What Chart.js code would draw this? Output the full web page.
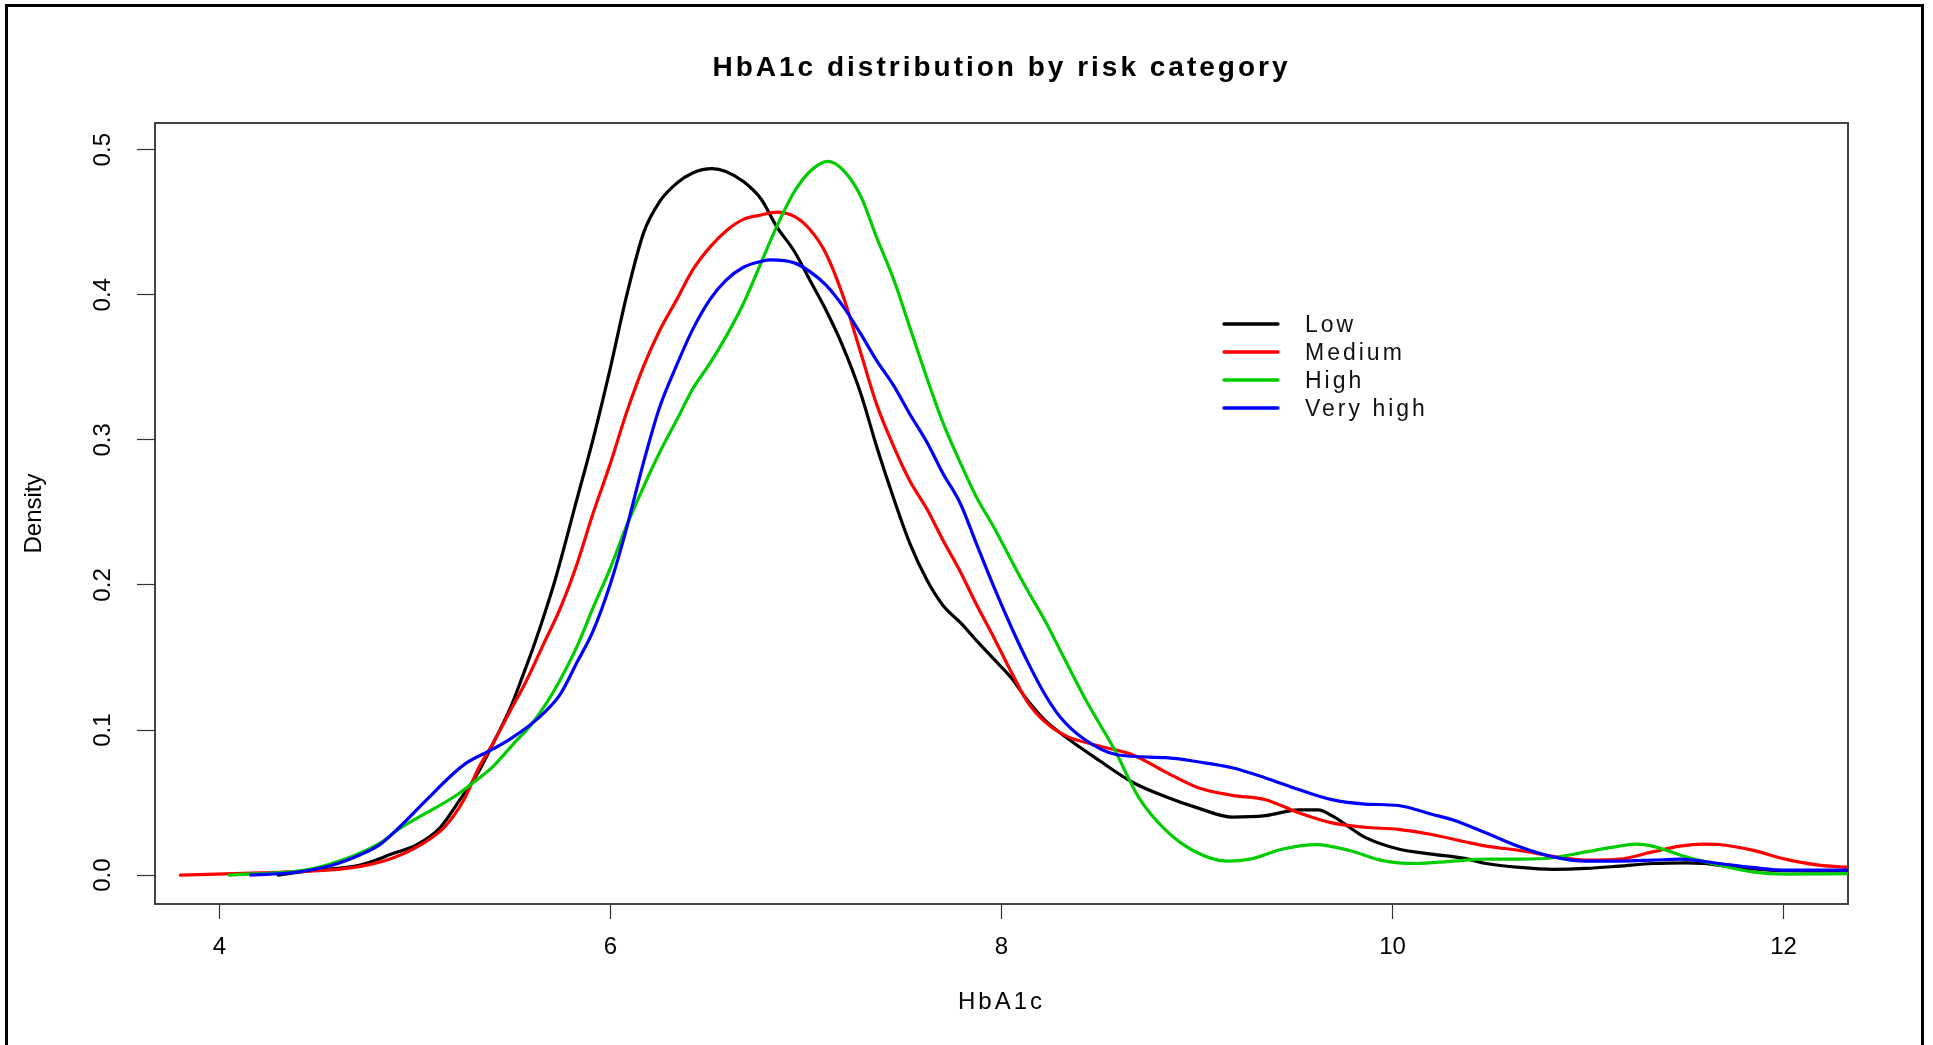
<!DOCTYPE html>
<html lang="en">
<head>
<meta charset="UTF-8">
<title>HbA1c distribution by risk category</title>
<script src="https://cdn.jsdelivr.net/npm/chart.js"></script>
<style>
  html, body { margin: 0; padding: 0; background: #fff; }
  canvas { display: block; }
</style>
</head>
<body>
<canvas id="densityChart" width="1933" height="1045"></canvas>
<script>
// density curves (HbA1c on x, density on y)
const lowX = [4.30, 4.46, 4.72, 4.89, 5.01, 5.13, 5.23, 5.32, 5.40, 5.49, 5.55, 5.61, 5.66, 5.72, 5.83, 5.91, 6.00, 6.08, 6.17, 6.25, 6.34, 6.42, 6.52, 6.59, 6.68, 6.77, 6.85, 6.94, 7.02, 7.10, 7.19, 7.28, 7.36, 7.45, 7.53, 7.62, 7.70, 7.79, 7.87, 7.96, 8.05, 8.13, 8.22, 8.33, 8.50, 8.67, 8.84, 9.01, 9.18, 9.35, 9.52, 9.62, 9.69, 9.78, 9.86, 10.03, 10.20, 10.37, 10.48, 10.65, 10.82, 10.99, 11.16, 11.33, 11.50, 11.59, 11.76, 11.93, 12.10, 12.35];
const lowY = [0.000, 0.003, 0.007, 0.015, 0.021, 0.033, 0.052, 0.070, 0.091, 0.116, 0.137, 0.159, 0.179, 0.205, 0.260, 0.300, 0.350, 0.398, 0.443, 0.464, 0.477, 0.484, 0.487, 0.485, 0.478, 0.466, 0.447, 0.430, 0.410, 0.390, 0.364, 0.332, 0.296, 0.259, 0.229, 0.203, 0.186, 0.174, 0.162, 0.149, 0.136, 0.121, 0.107, 0.095, 0.079, 0.064, 0.054, 0.046, 0.040, 0.041, 0.045, 0.045, 0.041, 0.033, 0.026, 0.018, 0.0145, 0.0115, 0.008, 0.0053, 0.004, 0.0046, 0.0062, 0.008, 0.0085, 0.008, 0.0053, 0.0034, 0.003, 0.003];

const medX = [3.80, 4.21, 4.55, 4.72, 4.89, 5.03, 5.15, 5.25, 5.33, 5.40, 5.49, 5.57, 5.66, 5.74, 5.83, 5.91, 6.00, 6.08, 6.17, 6.25, 6.34, 6.42, 6.51, 6.60, 6.68, 6.77, 6.85, 6.94, 7.02, 7.10, 7.19, 7.28, 7.36, 7.45, 7.53, 7.62, 7.70, 7.79, 7.87, 7.96, 8.05, 8.13, 8.22, 8.33, 8.50, 8.67, 8.84, 9.01, 9.18, 9.35, 9.52, 9.69, 9.86, 10.03, 10.20, 10.37, 10.48, 10.65, 10.82, 10.99, 11.16, 11.33, 11.47, 11.59, 11.67, 11.84, 12.01, 12.18, 12.35];
const medY = [0.000, 0.0016, 0.0034, 0.006, 0.012, 0.021, 0.033, 0.052, 0.075, 0.091, 0.114, 0.134, 0.160, 0.183, 0.215, 0.249, 0.284, 0.318, 0.351, 0.375, 0.397, 0.417, 0.433, 0.445, 0.452, 0.455, 0.457, 0.454, 0.445, 0.429, 0.399, 0.360, 0.325, 0.295, 0.272, 0.252, 0.231, 0.209, 0.187, 0.164, 0.140, 0.120, 0.106, 0.096, 0.089, 0.083, 0.071, 0.060, 0.055, 0.052, 0.043, 0.036, 0.033, 0.0315, 0.028, 0.023, 0.020, 0.017, 0.013, 0.0103, 0.011, 0.016, 0.020, 0.0214, 0.0211, 0.0172, 0.011, 0.0069, 0.0053];

const highX = [4.05, 4.46, 4.68, 4.82, 4.92, 5.06, 5.20, 5.30, 5.40, 5.50, 5.59, 5.67, 5.74, 5.83, 5.91, 6.00, 6.08, 6.17, 6.25, 6.34, 6.42, 6.51, 6.59, 6.68, 6.77, 6.85, 6.94, 7.02, 7.11, 7.19, 7.28, 7.36, 7.45, 7.53, 7.62, 7.70, 7.79, 7.87, 7.96, 8.05, 8.13, 8.22, 8.30, 8.43, 8.58, 8.70, 8.84, 8.98, 9.15, 9.27, 9.44, 9.61, 9.78, 9.95, 10.12, 10.31, 10.48, 10.65, 10.82, 10.99, 11.16, 11.25, 11.33, 11.50, 11.67, 11.84, 12.01, 12.35];
const highY = [0.000, 0.004, 0.013, 0.022, 0.032, 0.043, 0.054, 0.064, 0.075, 0.090, 0.103, 0.118, 0.134, 0.158, 0.184, 0.212, 0.240, 0.268, 0.291, 0.314, 0.335, 0.353, 0.371, 0.394, 0.422, 0.447, 0.471, 0.485, 0.492, 0.486, 0.468, 0.440, 0.410, 0.378, 0.342, 0.312, 0.284, 0.261, 0.240, 0.217, 0.197, 0.176, 0.155, 0.121, 0.086, 0.054, 0.031, 0.017, 0.0097, 0.011, 0.018, 0.021, 0.017, 0.010, 0.008, 0.0097, 0.011, 0.011, 0.012, 0.016, 0.020, 0.0214, 0.020, 0.0126, 0.007, 0.0023, 0.0007, 0.001];

const vhighX = [4.16, 4.38, 4.58, 4.72, 4.82, 4.92, 5.06, 5.18, 5.26, 5.40, 5.50, 5.62, 5.74, 5.83, 5.91, 6.00, 6.08, 6.17, 6.25, 6.34, 6.42, 6.51, 6.59, 6.68, 6.77, 6.82, 6.94, 7.02, 7.10, 7.19, 7.28, 7.36, 7.45, 7.53, 7.62, 7.70, 7.79, 7.87, 7.96, 8.05, 8.13, 8.22, 8.30, 8.42, 8.59, 8.84, 9.01, 9.18, 9.35, 9.52, 9.69, 9.86, 10.03, 10.20, 10.31, 10.48, 10.65, 10.82, 10.99, 11.16, 11.33, 11.47, 11.67, 11.84, 12.01, 12.35];
const vhighY = [0.000, 0.0018, 0.007, 0.014, 0.021, 0.033, 0.052, 0.068, 0.077, 0.087, 0.095, 0.107, 0.124, 0.147, 0.168, 0.201, 0.238, 0.285, 0.322, 0.352, 0.376, 0.397, 0.410, 0.419, 0.423, 0.424, 0.422, 0.416, 0.407, 0.392, 0.373, 0.355, 0.337, 0.318, 0.298, 0.277, 0.256, 0.229, 0.199, 0.171, 0.148, 0.125, 0.109, 0.094, 0.083, 0.081, 0.078, 0.074, 0.067, 0.059, 0.052, 0.049, 0.048, 0.042, 0.038, 0.029, 0.0195, 0.0126, 0.0097, 0.0097, 0.0103, 0.011, 0.008, 0.0053, 0.0034, 0.0034];

const groups = ["Low", "Medium", "High", "Very high"];
const xTicks = [4, 6, 8, 10, 12];
const yTicks = [0, 0.1, 0.2, 0.3, 0.4, 0.5];

function pts(xs, ys) {
    return xs.map((x, i) => ({ x: x, y: ys[i] }));
}

Chart.defaults.font.family = "'Liberation Sans', Arial, sans-serif";
Chart.defaults.color = "#000";

// horizontal text in the original is spaced out, rotated text and tick numbers are not.
// things at z <= 0 (title, x title) draw before the curves, the rest after them.
const spacing = {
    id: "spacing",
    beforeUpdate(chart) { chart.ctx.letterSpacing = "0px"; },
    beforeDraw(chart) { chart.ctx.letterSpacing = "3px"; },
    afterDatasetsDraw(chart) { chart.ctx.letterSpacing = "0px"; }
};

// outer frame, plot box and the legend inside the plot
const frame = {
    id: "frame",
    beforeDraw(chart) {
        const ctx = chart.ctx;
        ctx.save();
        ctx.strokeStyle = "#000";
        ctx.lineWidth = 3;
        ctx.strokeRect(6.5, 5.5, 1916, 1060);
        ctx.restore();
    },
    beforeDatasetsDraw(chart) {
        const { ctx, chartArea: a } = chart;
        ctx.save();
        ctx.strokeStyle = "#444";
        ctx.lineWidth = 2;
        ctx.strokeRect(a.left, a.top, a.right - a.left, a.bottom - a.top);
        ctx.restore();
    },
    afterDraw(chart) {
        const ctx = chart.ctx;
        const x = 1224, y0 = 324, len = 54, row = 28;
        ctx.save();
        ctx.letterSpacing = "3px";
        ctx.font = "23px 'Liberation Sans', Arial, sans-serif";
        ctx.textBaseline = "middle";
        chart.data.datasets.forEach((ds, i) => {
            const y = y0 + i * row;
            ctx.strokeStyle = ds.borderColor;
            ctx.lineWidth = 3.3;
            ctx.lineCap = "round";
            ctx.beginPath();
            ctx.moveTo(x, y);
            ctx.lineTo(x + len, y);
            ctx.stroke();
            ctx.fillStyle = "#111";
            ctx.fillText(ds.label, x + len + 27, y + 2);
        });
        ctx.restore();
    }
};

function line(label, xs, ys, color, order) {
    return {
        label: label,
        data: pts(xs, ys),
        borderColor: color,
        borderWidth: 3.2,
        borderCapStyle: "round",
        borderJoinStyle: "round",
        pointRadius: 0,
        fill: false,
        cubicInterpolationMode: "monotone",
        order: order
    };
}

new Chart(document.getElementById("densityChart"), {
    type: "line",
    data: {
        datasets: [
            line(groups[0], lowX, lowY, "#000000", 3),
            line(groups[1], medX, medY, "#ff0000", 2),
            line(groups[2], highX, highY, "#00cd00", 1),
            line(groups[3], vhighX, vhighY, "#0000ff", 0)
        ]
    },
    options: {
        responsive: false,
        animation: false,
        devicePixelRatio: 1,
        layout: { padding: { left: 0, right: 85, top: 0, bottom: 0 } },
        plugins: {
            legend: { display: false },
            tooltip: { enabled: false },
            title: {
                display: true,
                text: "HbA1c distribution by risk category",
                fullSize: false,
                font: { size: 28, weight: "bold" },
                padding: { top: 51, bottom: 38.4 }
            }
        },
        scales: {
            x: {
                type: "linear",
                min: 3.67,
                max: 12.33,
                afterBuildTicks: s => { s.ticks = xTicks.map(v => ({ value: v })); },
                afterFit: s => { s.height = 141; },
                border: { display: false },
                grid: { drawOnChartArea: false, tickLength: 15, color: "#333", tickWidth: 1.2 },
                ticks: { font: { size: 24 }, padding: 14, autoSkip: false, maxRotation: 0, z: 1 },
                title: { display: true, text: "HbA1c", font: { size: 24 }, padding: { top: 0, bottom: 28 } }
            },
            y: {
                type: "linear",
                min: -0.0199,
                max: 0.5184,
                afterBuildTicks: s => { s.ticks = yTicks.map(v => ({ value: v })); },
                afterFit: s => { s.width = 155; },
                border: { display: false },
                grid: { drawOnChartArea: false, tickLength: 18, color: "#333", tickWidth: 1.2, z: 1 },
                ticks: {
                    font: { size: 24 },
                    minRotation: 90,
                    maxRotation: 90,
                    crossAlign: "center",
                    padding: 17,
                    autoSkip: false,
                    z: 1,
                    callback: v => v.toFixed(1)
                },
                title: { display: true, text: "Density", font: { size: 24 }, padding: { top: 19.5, bottom: 0 } }
            }
        }
    },
    plugins: [spacing, frame]
});
</script>
</body>
</html>
